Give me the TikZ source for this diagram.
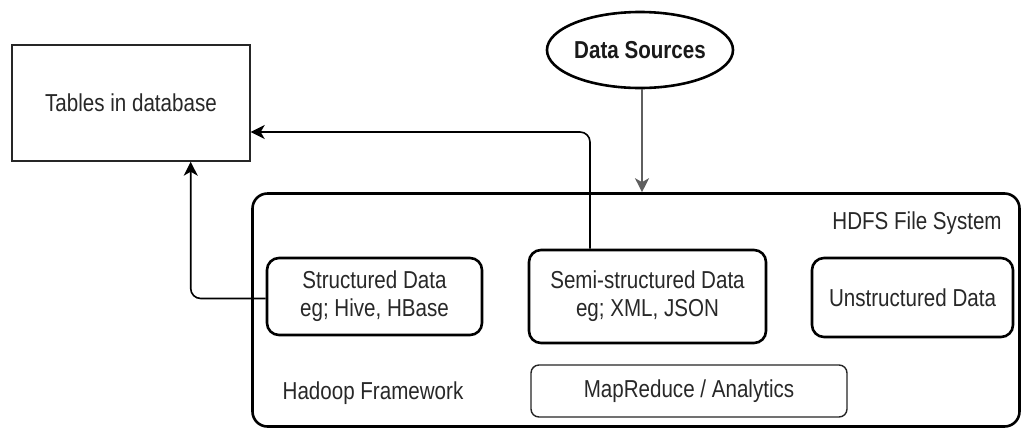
\documentclass[tikz,border=0pt]{standalone}
\usepackage{fontspec}
\setmainfont{Liberation Sans}[FakeStretch=0.84]
\usetikzlibrary{arrows.meta,calc,shapes.geometric}
\definecolor{txt}{RGB}{40,40,40}
\definecolor{srcline}{RGB}{95,95,95}
\tikzset{
  base/.style={font=\fontsize{24.5}{28}\selectfont, text=txt, align=center, inner sep=0pt},
  thickbox/.style={base, draw=black, line width=2.6pt, rounded corners=12pt},
  thinbox/.style={base, draw=black!85, line width=1.4pt},
  arr/.style={line width=1.6pt, -{Stealth[length=14pt,width=14pt,inset=4pt]}},
  lbl/.style={base}
}
\begin{document}
\begin{tikzpicture}[x=1pt,y=-1pt]
  \useasboundingbox[fill=white] (0,0) rectangle (1024,429);

  % storage target
  \node[thinbox, minimum width=238pt, minimum height=116pt] (tables) at (131,103) {Tables in database};

  % source
  \node[base, draw=black, line width=2.6pt, ellipse, minimum width=157pt, minimum height=76pt,
        font=\fontsize{24.5}{28}\selectfont\bfseries, text=black!90] (ds) at (640,50) {Data Sources};

  % Hadoop container
  \node[draw=black, line width=2.6pt, rounded corners=15pt, minimum width=767pt, minimum height=233pt,
        inner sep=0pt] (hdfs) at (636,310) {};
  \node[lbl] (hdfslbl) at (917,223) {HDFS File System};
  \node[lbl] (hadoop) at (373,393) {Hadoop Framework};

  % data categories
  \node[thickbox, minimum width=215pt, minimum height=77pt] (struct) at (374.5,296.5)
       {Structured Data\\eg; Hive, HBase};
  \node[thickbox, minimum width=237pt, minimum height=93pt] (semi) at (647.5,296.5)
       {Semi-structured Data\\eg; XML, JSON};
  \node[thickbox, minimum width=201pt, minimum height=79pt] (unstr) at (912.5,297.5)
       {Unstructured Data};
  \node[thinbox, rounded corners=8pt, minimum width=316pt, minimum height=52pt] (mr) at (689,391)
       {MapReduce / Analytics};

  % connectors
  \draw[arr, draw=srcline, fill=srcline] ([xshift=2pt]ds.south) -- ([xshift=2pt]ds.south |- hdfs.north);
  \draw[arr, rounded corners=10pt] ([yshift=-2pt]struct.west) -| ([xshift=-60pt]tables.south east);
  \draw[arr, rounded corners=10pt] ([xshift=-57.5pt]semi.north) |- ([yshift=-29pt]tables.east);
\end{tikzpicture}
\end{document}
